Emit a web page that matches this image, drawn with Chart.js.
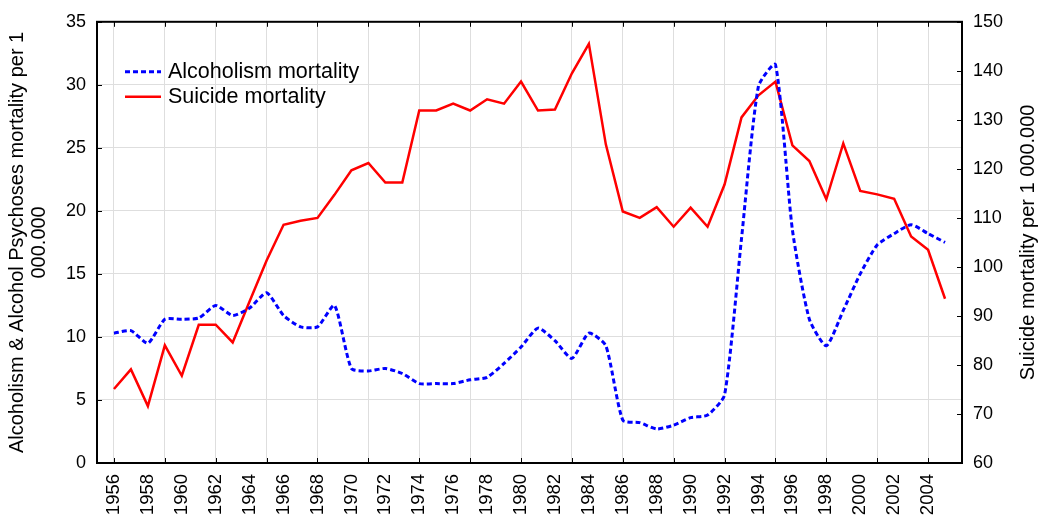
<!DOCTYPE html>
<html>
<head>
<meta charset="utf-8">
<script src="https://cdn.jsdelivr.net/npm/chart.js@4.4.0/dist/chart.umd.min.js"></script>
<style>
    html, body { margin: 0; padding: 0; background: #ffffff; }
</style>
</head>
<body>
<canvas id="myChart" width="1039" height="519"></canvas>
<script>
// data
const years = [
    1956, 1957, 1958, 1959, 1960, 1961, 1962, 1963, 1964, 1965,
    1966, 1967, 1968, 1969, 1970, 1971, 1972, 1973, 1974, 1975,
    1976, 1977, 1978, 1979, 1980, 1981, 1982, 1983, 1984, 1985,
    1986, 1987, 1988, 1989, 1990, 1991, 1992, 1993, 1994, 1995,
    1996, 1997, 1998, 1999, 2000, 2001, 2002, 2003, 2004, 2005
];
const alcoholism = [
    10.3, 10.5, 9.5, 11.4, 11.4, 11.5, 12.5, 11.7, 12.3, 13.5,
    11.7, 10.8, 10.8, 12.5, 7.5, 7.3, 7.5, 7.1, 6.3, 6.3,
    6.3, 6.6, 6.8, 7.9, 9.2, 10.7, 9.7, 8.3, 10.3, 9.3,
    3.4, 3.2, 2.7, 3.0, 3.6, 3.8, 5.4, 17.8, 29.9, 31.6,
    18.5, 11.4, 9.3, 12.1, 15.0, 17.3, 18.2, 18.9, 18.2, 17.5
];
const suicide = [
    75.1, 79.1, 71.6, 84.0, 77.8, 88.2, 88.2, 84.6, 93.0, 101.3,
    108.6, 109.4, 110.0, 114.7, 119.7, 121.2, 117.2, 117.2, 131.9, 131.9,
    133.3, 131.9, 134.2, 133.3, 137.8, 131.9, 132.1, 139.5, 145.5, 125.0,
    111.3, 110.0, 112.2, 108.2, 112.1, 108.2, 116.8, 130.5, 135.0, 137.8,
    124.8, 121.6, 113.8, 125.2, 115.5, 114.8, 113.9, 106.2, 103.5, 93.5
];

// tick labels every 2 years, grid lines every 3 years
const labelYears = [1956, 1958, 1960, 1962, 1964, 1966, 1968, 1970, 1972, 1974, 1976, 1978,
                    1980, 1982, 1984, 1986, 1988, 1990, 1992, 1994, 1996, 1998, 2000, 2002, 2004];
const gridYears  = [1956, 1959, 1962, 1965, 1968, 1971, 1974, 1977, 1980, 1983, 1986, 1989,
                    1992, 1995, 1998, 2001, 2004];
const leftTicks  = [0, 5, 10, 15, 20, 25, 30, 35];
const rightTicks = [60, 70, 80, 90, 100, 110, 120, 130, 140, 150];

const leftTitle  = ['Alcoholism & Alcohol Psychoses mortality per 1', '000.000'];
const rightTitle = 'Suicide mortality per 1 000.000';
const FONT = "'Liberation Sans', Arial, sans-serif";

const allXTicks = Array.from(new Set(labelYears.concat(gridYears))).sort((a, b) => a - b);

// box, inner tick marks, right title and the legend inside the plot
const decor = {
    id: 'decor',
    afterDraw(chart) {
        const ctx = chart.ctx;
        const a   = chart.chartArea;
        const sx  = chart.scales.x, sy = chart.scales.y, sy1 = chart.scales.y1;
        const tl  = 5;

        ctx.save();
        ctx.strokeStyle = '#000';
        ctx.lineWidth = 1;
        ctx.beginPath();
        gridYears.forEach(v => {
            const px = Math.round(sx.getPixelForValue(v)) + 0.5;
            ctx.moveTo(px, a.top);    ctx.lineTo(px, a.top + tl);
            ctx.moveTo(px, a.bottom); ctx.lineTo(px, a.bottom - tl);
        });
        leftTicks.forEach(v => {
            const py = Math.round(sy.getPixelForValue(v)) + 0.5;
            ctx.moveTo(a.left, py); ctx.lineTo(a.left + tl, py);
        });
        rightTicks.forEach(v => {
            const py = Math.round(sy1.getPixelForValue(v)) + 0.5;
            ctx.moveTo(a.right, py); ctx.lineTo(a.right - tl, py);
        });
        ctx.stroke();

        ctx.lineWidth = 2;
        ctx.strokeRect(a.left, a.top, a.right - a.left, a.bottom - a.top);

        // right axis title, reading bottom to top
        ctx.fillStyle = '#000';
        ctx.font = '20px ' + FONT;
        ctx.textAlign = 'center';
        ctx.textBaseline = 'middle';
        ctx.translate(1028, (a.top + a.bottom) / 2);
        ctx.rotate(-Math.PI / 2);
        ctx.fillText(rightTitle, 0, 0);
        ctx.restore();

        // legend
        ctx.save();
        ctx.font = '21.5px ' + FONT;
        ctx.textBaseline = 'middle';
        ctx.textAlign = 'left';
        chart.data.datasets.forEach((ds, i) => {
            const y = a.top + 50 + i * 25;
            const x = a.left + 28;
            ctx.strokeStyle = ds.borderColor;
            ctx.lineWidth = ds.borderWidth;
            ctx.setLineDash(ds.borderDash || []);
            ctx.beginPath();
            ctx.moveTo(x, y); ctx.lineTo(x + 36, y);
            ctx.stroke();
            ctx.setLineDash([]);
            ctx.fillStyle = '#000';
            ctx.fillText(ds.label, x + 43, y);
        });
        ctx.restore();
    }
};

new Chart(document.getElementById('myChart').getContext('2d'), {
    type: 'line',
    data: {
        datasets: [
            {
                label      : 'Alcoholism mortality',
                data       : years.map((y, i) => ({ x: y, y: alcoholism[i] })),
                yAxisID    : 'y',
                borderColor: '#0000ff',
                borderWidth: 3,
                borderDash : [5, 3],
                tension    : 0.2,
                pointRadius: 0,
                fill       : false
            },
            {
                label      : 'Suicide mortality',
                data       : years.map((y, i) => ({ x: y, y: suicide[i] })),
                yAxisID    : 'y1',
                borderColor: '#ff0000',
                borderWidth: 2.5,
                tension    : 0,
                pointRadius: 0,
                fill       : false
            }
        ]
    },
    options: {
        responsive: false,
        animation : false,
        devicePixelRatio: 1,
        layout: { padding: { top: 20, left: 0, right: 0, bottom: 0 } },
        plugins: {
            legend : { display: false },
            tooltip: { enabled: false }
        },
        scales: {
            x: {
                type: 'linear',
                min : 1955,
                max : 2006,
                afterBuildTicks: (scale) => { scale.ticks = allXTicks.map(v => ({ value: v })); },
                afterFit: (scale) => { scale.height = 56; },
                grid: {
                    drawTicks: false,
                    color: (c) => (c.tick && gridYears.includes(c.tick.value)) ? '#dedede' : 'rgba(0,0,0,0)'
                },
                border: { display: false },
                ticks: {
                    autoSkip   : false,
                    minRotation: 90,
                    maxRotation: 90,
                    padding    : 11,
                    color      : '#000',
                    font       : { family: FONT, size: 18.5 },
                    callback   : (v) => labelYears.includes(v) ? String(v) : ''
                }
            },
            y: {
                position: 'left',
                min: 0,
                max: 35,
                afterFit: (scale) => { scale.width = 97; },
                grid  : { drawTicks: false, color: '#dedede' },
                border: { display: false },
                ticks : { stepSize: 5, padding: 11, color: '#000', font: { family: FONT, size: 18 } },
                title : {
                    display: true,
                    text   : leftTitle,
                    color  : '#000',
                    padding: { top: 6, bottom: 0 },
                    font   : { family: FONT, size: 20, lineHeight: 1.1 }
                }
            },
            y1: {
                position: 'right',
                min: 60,
                max: 150,
                afterFit: (scale) => { scale.width = 77; },
                grid  : { display: false, drawTicks: false },
                border: { display: false },
                ticks : { stepSize: 10, padding: 11, color: '#000', font: { family: FONT, size: 18 } }
            }
        }
    },
    plugins: [decor]
});
</script>
</body>
</html>
